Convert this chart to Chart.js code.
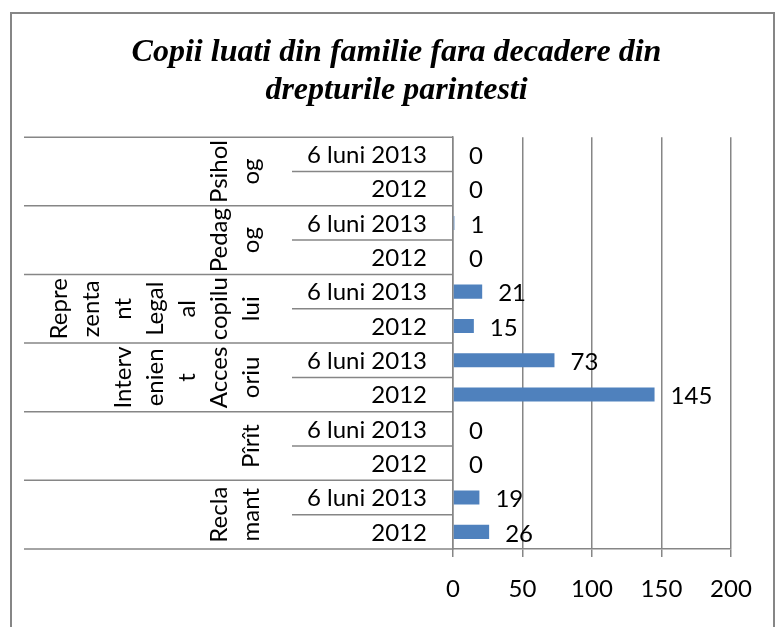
<!DOCTYPE html>
<html>
<head>
<meta charset="utf-8">
<script src="https://cdn.jsdelivr.net/npm/chart.js@4.4.1/dist/chart.umd.min.js"></script>
<style>
  html, body { margin: 0; padding: 0; background: #fff; }
  canvas { display: block; }
</style>
</head>
<body>
<canvas id="bar-chart" width="782" height="627"></canvas>
<script>
const groups = ["Psiholog", "Pedagog", "Reprezentant Legal al copilului", "Intervenient Accesoriu", "Pîrît", "Reclamant"]
// group names wrapped the way they are in the picture
const groupLines = [
  ["Psihol", "og"],
  ["Pedag", "og"],
  ["Repre", "zenta", "nt", "Legal", "al", "copilu", "lui"],
  ["Interv", "enien", "t", "Acces", "oriu"],
  ["Pîrît"],
  ["Recla", "mant"],
]
const periods = ["6 luni 2013", "2012"]
const values2013 = [0, 1, 21, 73, 0, 19]
const values2012 = [0, 0, 15, 145, 0, 26]

const labels = []
const values = []
groups.forEach((g, i) => {
  labels.push(periods[0])
  values.push(values2013[i])
  labels.push(periods[1])
  values.push(values2012[i])
})

const gray = "#868686"
const labelFont = "24px Lato"

const frame = {
  id: "frame",
  beforeDraw(chart) {
    const c = chart.ctx
    c.save()
    c.strokeStyle = gray
    c.lineWidth = 2
    c.strokeRect(11, 13, 763, 660)
    c.restore()
  },
}

const categoryAxis = {
  id: "categoryAxis",
  afterDraw(chart) {
    const c = chart.ctx
    const y = chart.scales.y
    const step = y.getPixelForValue(1) - y.getPixelForValue(0)
    const axisX = chart.chartArea.left
    const hline = (x0, yy) => {
      c.beginPath()
      c.moveTo(x0, yy)
      c.lineTo(axisX, yy)
      c.stroke()
    }
    c.save()
    c.strokeStyle = gray
    c.lineWidth = 1.5
    c.fillStyle = "#000"
    c.font = labelFont
    hline(24, y.getPixelForValue(0) - step / 2)
    labels.forEach((lab, i) => {
      const yc = y.getPixelForValue(i)
      c.textAlign = "right"
      c.textBaseline = "middle"
      c.fillText(lab, axisX - 26, yc + 1)
      hline(i % 2 === 0 ? 292 : 24, yc + step / 2)
    })
    groupLines.forEach((lines, g) => {
      const yc = (y.getPixelForValue(2 * g) + y.getPixelForValue(2 * g + 1)) / 2
      lines.forEach((t, k) => {
        const bx = 259 - (lines.length - 1 - k) * 32
        c.save()
        c.translate(bx, yc)
        c.rotate(-Math.PI / 2)
        c.textAlign = "center"
        c.textBaseline = "alphabetic"
        c.fillText(t, 0, 0)
        c.restore()
      })
    })
    c.restore()
  },
}

const valueLabels = {
  id: "valueLabels",
  afterDatasetsDraw(chart) {
    const c = chart.ctx
    c.save()
    c.font = labelFont
    c.fillStyle = "#000"
    c.textAlign = "left"
    c.textBaseline = "middle"
    chart.getDatasetMeta(0).data.forEach((bar, i) => {
      c.fillText(String(values[i]), bar.x + 16, bar.y + 2)
    })
    c.restore()
  },
}

new Chart(document.getElementById("bar-chart"), {
  type: "bar",
  data: {
    labels: labels,
    datasets: [
      {
        data: values,
        backgroundColor: "#4F81BD",
        barPercentage: 0.41,
        categoryPercentage: 1,
      },
    ],
  },
  options: {
    indexAxis: "y",
    responsive: false,
    animation: false,
    devicePixelRatio: 1,
    layout: { padding: { top: 0, left: 62, right: 51, bottom: 0 } },
    plugins: {
      legend: { display: false },
      tooltip: { enabled: false },
      title: {
        display: true,
        text: ["Copii luati din familie fara decadere din", "drepturile parintesti"],
        color: "#000",
        font: { family: "Liberation Serif", size: 32, style: "italic", weight: "bold", lineHeight: 1.19 },
        padding: { top: 34, bottom: 27 },
      },
    },
    scales: {
      x: {
        min: 0,
        max: 200,
        ticks: { stepSize: 50, color: "#000", font: { family: "Lato", size: 24 }, padding: 18 },
        grid: { color: gray, lineWidth: 1.5, tickLength: 8 },
        border: { color: gray, width: 1.5 },
        afterFit(s) {
          s.height = 78
        },
      },
      y: {
        ticks: { display: false },
        grid: { display: false },
        border: { color: gray, width: 1.5 },
        afterFit(s) {
          s.width = 391
        },
      },
    },
  },
  plugins: [frame, categoryAxis, valueLabels],
})
</script>
</body>
</html>
